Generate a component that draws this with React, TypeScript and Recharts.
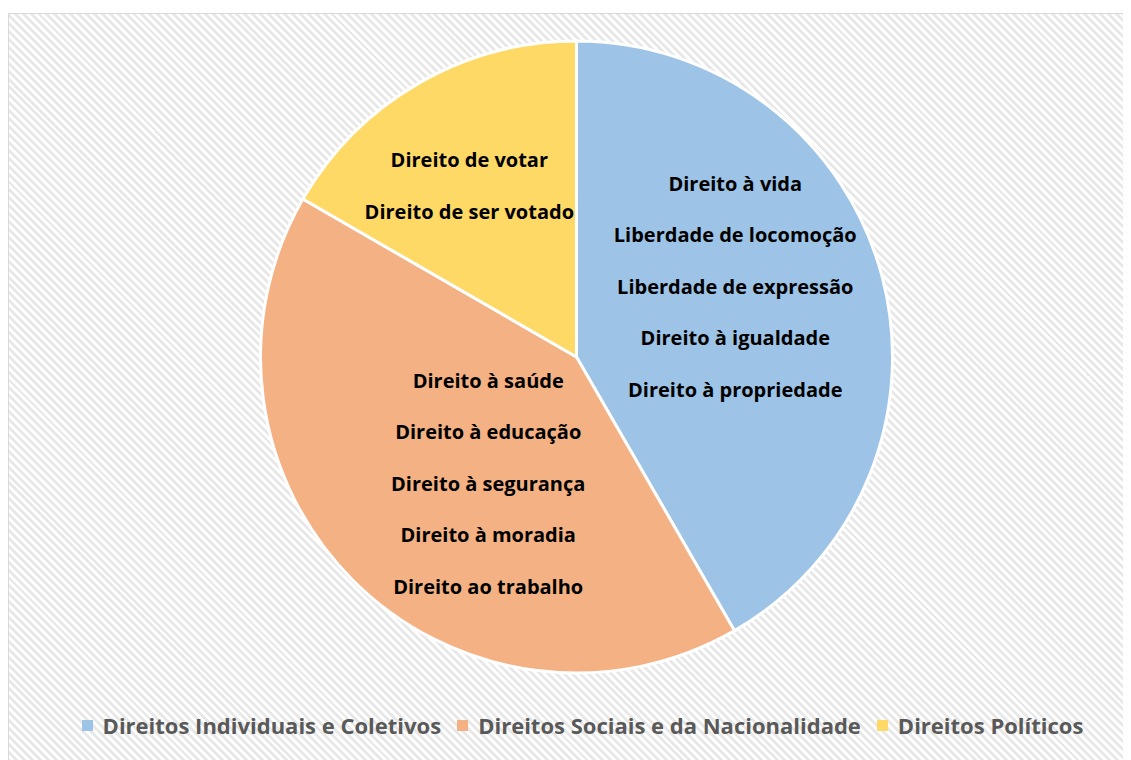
import { PieChart, Pie, Cell, Legend } from "recharts";

const categories = [
  "Direitos Individuais e Coletivos",
  "Direitos Sociais e da Nacionalidade",
  "Direitos Políticos",
];
const values = [5, 5, 2];
const individuaisItems = [
  "Direito à vida",
  "Liberdade de locomoção",
  "Liberdade de expressão",
  "Direito à igualdade",
  "Direito à propriedade",
];
const sociaisItems = [
  "Direito à saúde",
  "Direito à educação",
  "Direito à segurança",
  "Direito à moradia",
  "Direito ao trabalho",
];
const politicosItems = ["Direito de votar", "Direito de ser votado"];

const itemLists = [individuaisItems, sociaisItems, politicosItems];
const colors = ["#9DC3E6", "#F4B183", "#FFD966"];

const data = categories.map((name, i) => ({ name, value: values[i] }));

// where each block of labels sits inside its slice (angle shift in deg, radius fraction)
const labelPlace = [
  { dAngle: 9, rFrac: 0.55 },
  { dAngle: 10, rFrac: 0.487 },
  { dAngle: 2, rFrac: 0.64 },
];

const FONT = "'Open Sans', Lato, sans-serif";
const RAD = Math.PI / 180;
const LINE = 51.5;

function SliceLabel(props: any) {
  const { cx, cy, midAngle, outerRadius, index } = props;
  const place = labelPlace[index];
  const a = (midAngle + place.dAngle) * RAD;
  const r = outerRadius * place.rFrac;
  const x = cx + r * Math.cos(a);
  const y = cy - r * Math.sin(a);
  const lines = itemLists[index];
  const top = y - ((lines.length - 1) * LINE) / 2;
  return (
    <g>
      {lines.map((t, i) => (
        <text
          key={t}
          x={x}
          y={top + i * LINE}
          textAnchor="middle"
          dominantBaseline="central"
          fill="#000"
          fontFamily={FONT}
          fontWeight={700}
          fontSize={20}
        >
          {t}
        </text>
      ))}
    </g>
  );
}

function LegendContent() {
  return (
    <div
      style={{
        display: "flex",
        justifyContent: "center",
        alignItems: "center",
        fontFamily: FONT,
        fontWeight: 700,
        fontSize: 22,
        color: "#595959",
      }}
    >
      {categories.map((c, i) => (
        <div key={c} style={{ display: "flex", alignItems: "center", marginRight: 16 }}>
          <span
            style={{
              display: "inline-block",
              width: 11,
              height: 11,
              background: colors[i],
              marginRight: 10,
            }}
          />
          <span>{c}</span>
        </div>
      ))}
    </div>
  );
}

export default function App() {
  return (
    <div
      style={{
        marginTop: 5,
        width: 1140,
        height: 760,
        border: "1px solid #d9d9d9",
        background:
          "repeating-linear-gradient(45deg, #ffffff 0px, #ffffff 2.8px, #e8e8e8 2.8px, #e8e8e8 5.6px)",
        overflow: "hidden",
      }}
    >
      <PieChart width={1140} height={760} margin={{ top: 0, right: 0, bottom: 0, left: 0 }}>
        <Pie
          data={data}
          dataKey="value"
          nameKey="name"
          cx={567.5}
          cy={343}
          outerRadius={316}
          startAngle={90}
          endAngle={-270}
          stroke="#ffffff"
          strokeWidth={3}
          label={SliceLabel}
          labelLine={false}
          isAnimationActive={false}
        >
          {data.map((d, i) => (
            <Cell key={d.name} fill={colors[i]} />
          ))}
        </Pie>
        <Legend
          verticalAlign="bottom"
          content={<LegendContent />}
          wrapperStyle={{ top: 696, bottom: "auto", left: 0, width: 1163 }}
        />
      </PieChart>
    </div>
  );
}
